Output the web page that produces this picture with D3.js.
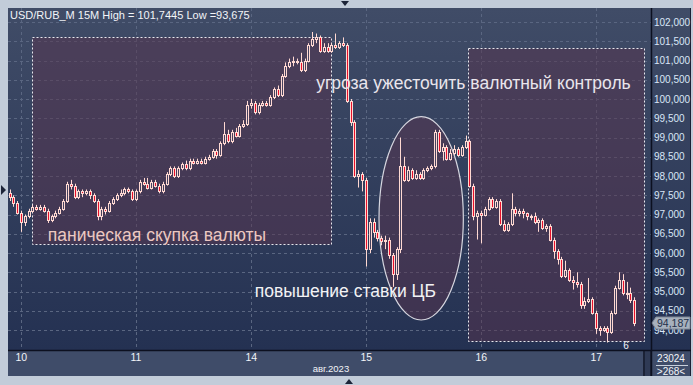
<!DOCTYPE html>
<html><head><meta charset="utf-8">
<script src="https://cdn.jsdelivr.net/npm/d3@7/dist/d3.min.js"></script>
<style>
html,body{margin:0;padding:0;background:#c2ccd9;}
svg{display:block;}
text{font-family:"Liberation Sans",Arial,sans-serif;}
</style></head><body>
<svg id="chart" width="693" height="385"></svg>
<script>
// ---- data (15-minute candles USD/RUB_M) ----
const opens = [97.55,97.45,97.30,97.05,96.80,96.95,97.10,97.20,97.15,97.20,97.10,96.85,96.95,97.05,97.15,97.35,97.80,97.75,97.45,97.60,
97.55,97.60,97.50,97.35,96.95,97.15,97.10,97.30,97.40,97.50,97.55,97.65,97.60,97.40,97.60,97.85,97.80,97.70,97.85,97.75,
97.60,97.80,98.05,98.20,98.00,98.20,98.30,98.20,98.40,98.35,98.40,98.35,98.45,98.50,98.65,98.55,98.85,99.10,98.90,99.15,
99.05,99.30,99.35,99.85,99.90,99.65,99.85,99.90,99.85,100.05,100.25,100.10,100.60,100.85,100.95,101.00,100.95,100.75,101.00,101.40,
101.55,101.60,101.25,101.35,101.25,101.40,101.35,101.45,101.40,99.95,99.40,98.00,98.05,97.90,96.10,96.80,96.55,96.40,96.30,96.35,
95.95,95.45,96.10,98.25,97.90,98.15,97.95,98.05,97.95,98.15,98.20,98.25,99.15,98.65,98.75,98.45,98.60,98.70,98.55,98.75,
98.90,97.75,96.95,97.05,97.00,97.15,97.40,97.20,97.35,96.75,96.60,96.75,97.15,97.05,97.10,97.05,96.95,96.95,96.80,96.85,
96.65,96.70,96.35,96.05,95.85,95.40,95.55,95.30,95.25,95.20,94.65,94.75,94.80,94.45,94.05,94.00,94.05,93.95,94.45,95.10,
95.30,94.95,94.95,94.78];
const highs = [97.65,97.50,97.35,97.10,97.00,97.15,97.25,97.25,97.25,97.25,97.15,97.00,97.10,97.20,97.40,97.85,97.90,97.80,97.65,97.65,
97.65,97.65,97.55,97.40,97.20,97.20,97.35,97.45,97.55,97.65,97.70,97.70,97.65,97.65,97.90,97.95,97.95,97.90,97.90,97.80,
97.85,98.10,98.25,98.25,98.25,98.35,98.40,98.45,98.45,98.45,98.45,98.50,98.55,98.70,98.70,98.90,99.40,99.20,99.20,99.25,
99.35,99.45,99.95,100.00,99.95,99.90,99.95,99.95,100.10,100.30,100.35,100.65,100.95,101.05,101.10,101.05,101.20,101.05,101.45,101.74,
101.70,101.65,101.45,101.45,101.45,101.70,101.50,101.60,101.45,100.00,99.45,98.15,98.10,97.95,96.90,96.90,96.60,96.45,96.45,96.40,
96.00,96.15,99.00,98.50,98.25,98.20,98.15,98.10,98.20,98.25,98.30,99.20,99.20,98.85,98.80,98.70,98.80,98.75,98.80,99.05,
98.95,97.80,97.10,97.10,97.20,97.45,97.45,97.40,97.40,96.85,96.80,97.55,97.20,97.15,97.15,97.05,97.00,97.05,96.90,96.90,
96.75,96.75,96.40,96.10,95.90,95.80,95.60,95.40,95.50,95.25,94.85,95.35,94.85,94.50,94.10,94.10,94.10,94.50,95.15,95.50,
95.45,95.25,95.10,94.85];
const lows = [97.35,97.20,97.00,96.55,96.70,96.90,97.05,97.10,97.10,97.05,96.78,96.80,96.90,97.00,97.10,97.30,97.65,97.40,97.40,97.45,
97.50,97.40,97.30,96.85,96.85,97.00,97.05,97.25,97.35,97.45,97.50,97.55,97.35,97.35,97.55,97.75,97.65,97.65,97.70,97.55,
97.55,97.75,98.00,97.95,97.95,98.15,98.15,98.15,98.30,98.30,98.30,98.30,98.40,98.45,98.45,98.50,98.80,98.85,98.85,99.00,
99.00,99.25,99.30,99.75,99.60,99.60,99.80,99.80,99.80,100.00,100.05,100.05,100.55,100.80,100.85,100.90,100.70,100.70,100.95,101.35,
101.45,101.20,101.20,101.20,101.20,101.30,101.30,101.35,99.90,99.30,97.95,97.70,97.60,95.65,96.00,96.40,96.30,96.20,96.10,95.85,
95.12,95.30,96.00,97.85,97.85,97.90,97.90,97.90,97.90,98.10,98.15,98.20,98.60,98.40,98.40,98.40,98.55,98.50,98.50,98.70,
97.70,96.85,96.35,96.25,96.95,97.10,97.15,97.15,96.70,96.55,96.55,96.70,96.95,96.95,96.90,96.85,96.85,96.75,96.55,96.60,
96.55,96.30,95.85,95.70,95.35,95.35,95.25,95.05,95.10,94.55,94.55,94.70,94.40,93.90,93.85,93.95,93.675,93.90,94.40,95.05,
94.90,94.80,94.70,94.10];
const closes = [97.45,97.30,97.05,96.80,96.95,97.10,97.20,97.15,97.20,97.10,96.85,96.95,97.05,97.15,97.35,97.80,97.75,97.45,97.60,97.55,
97.60,97.50,97.35,96.95,97.15,97.10,97.30,97.40,97.50,97.55,97.65,97.60,97.40,97.60,97.85,97.80,97.70,97.85,97.75,97.60,
97.80,98.05,98.20,98.00,98.20,98.30,98.20,98.40,98.35,98.40,98.35,98.45,98.50,98.65,98.55,98.85,99.10,98.90,99.15,99.05,
99.30,99.35,99.85,99.90,99.65,99.85,99.90,99.85,100.05,100.25,100.10,100.60,100.85,100.95,101.00,100.95,100.75,101.00,101.40,101.55,
101.60,101.25,101.35,101.25,101.40,101.35,101.45,101.40,99.95,99.40,98.00,98.05,97.90,96.10,96.80,96.55,96.40,96.30,96.35,95.95,
95.45,96.10,98.25,97.90,98.15,97.95,98.05,97.95,98.15,98.20,98.25,99.15,98.65,98.75,98.45,98.60,98.70,98.55,98.75,98.90,
97.75,96.95,97.05,97.00,97.15,97.40,97.20,97.35,96.75,96.60,96.75,97.15,97.05,97.10,97.05,96.95,96.95,96.80,96.85,96.65,
96.70,96.35,96.05,95.85,95.40,95.55,95.30,95.25,95.20,94.65,94.75,94.80,94.45,94.05,94.00,94.05,93.95,94.45,95.10,95.30,
94.95,94.95,94.78,94.187];
const dayLabels = ["10","11","14","15","16","17"];
const dayStart = [3,33,63,93,123,153];
const yTicks = [94,94.5,95,95.5,96,96.5,97,97.5,98,98.5,99,99.5,100,100.5,101,101.5,102];
const title = "USD/RUB_M 15M High = 101,7445 Low =93,675";
const lastPrice = 94.187;
const notes = [
  {t:"угроза ужесточить валютный контроль", i:80, v:100.25, c:"#e9e5ec"},
  {t:"паническая скупка валюты", i:10, v:96.32, c:"#ecc8c1"},
  {t:"повышение ставки ЦБ", i:64, v:94.87, c:"#f2f2f4"}
];
const boxes = [ {i0:6.0, i1:84.0, v0:101.62, v1:96.24}, {i0:119.5, i1:165.5, v0:101.33, v1:93.73} ];
const ellipse = {i:107.4, v:96.9, rxi:11, rv:2.64};

const svg = d3.select("#chart");
const L=8, T=8, R=651, B=350, BB=376;
const n = closes.length;
const x = d3.scaleLinear().domain([0,163]).range([9.5,634.3]);
const y = d3.scaleLinear().domain([94,102]).range([330,22]);
const fmt = v => d3.format(".3f")(v).replace(".",",");

const defs = svg.append("defs");
const g1 = defs.append("linearGradient").attr("id","bg").attr("x1",0).attr("y1",0).attr("x2",0).attr("y2",1);
g1.append("stop").attr("offset","0%").attr("stop-color","#404c67");
g1.append("stop").attr("offset","100%").attr("stop-color","#243152");
const clip = defs.append("clipPath").attr("id","plotclip");
clip.append("rect").attr("x",L).attr("y",T).attr("width",R-L).attr("height",B-T);

// frame
svg.append("rect").attr("x",L).attr("y",T).attr("width",683).attr("height",BB-T).attr("fill","#1b2236");
svg.append("rect").attr("x",L).attr("y",T).attr("width",R-L).attr("height",B-T).attr("fill","url(#bg)");
svg.append("rect").attr("x",R+1).attr("y",T).attr("width",38).attr("height",B-T).attr("fill","url(#bg)");
svg.append("rect").attr("x",L).attr("y",B+1).attr("width",R-L-8).attr("height",BB-B-1).attr("fill","#3f4c69");
svg.append("rect").attr("x",R-6).attr("y",B+1).attr("width",5).attr("height",BB-B-1).attr("fill","#2f3a55");
svg.append("rect").attr("x",R+1).attr("y",B+1).attr("width",38).attr("height",BB-B-1).attr("fill","#3f4c69");

const plot = svg.append("g").attr("clip-path","url(#plotclip)");
// grid
plot.append("g").selectAll("line").data(yTicks).join("line")
  .attr("x1",L).attr("x2",R).attr("y1",d=>Math.round(y(d))+0.5).attr("y2",d=>Math.round(y(d))+0.5)
  .attr("stroke","#5a6681").attr("stroke-dasharray","3,3");
plot.append("g").selectAll("line").data(dayStart).join("line")
  .attr("x1",d=>Math.round(x(d))+0.5).attr("x2",d=>Math.round(x(d))+0.5).attr("y1",T).attr("y2",B)
  .attr("stroke","#5a6681").attr("stroke-dasharray","3,3");

// annotation boxes
boxes.forEach(b=>{
  plot.append("rect").attr("x",Math.round(x(b.i0))+0.5).attr("y",Math.round(y(b.v0))+0.5)
    .attr("width",Math.round(x(b.i1)-x(b.i0))).attr("height",Math.round(y(b.v1)-y(b.v0)))
    .attr("fill","rgba(88,52,78,0.5)").attr("stroke","#e8e8ee").attr("stroke-width",1).attr("stroke-dasharray","2,2");
});
const cx = x(ellipse.i), cy = y(ellipse.v);
plot.append("ellipse").attr("cx",cx).attr("cy",cy).attr("rx",x(ellipse.rxi)-x(0)).attr("ry",y(0)-y(ellipse.rv))
  .attr("fill","rgba(88,52,78,0.5)").attr("stroke","#d7d7e0").attr("stroke-width",1.2);

// candles
const cg = plot.append("g");
d3.range(n).forEach(i=>{
  const xc = Math.round(x(i));
  const up = closes[i] >= opens[i];
  const yt = Math.round(y(Math.max(opens[i],closes[i])));
  const yb = Math.max(Math.round(y(Math.min(opens[i],closes[i]))), yt+1);
  cg.append("line").attr("x1",xc+0.5).attr("x2",xc+0.5).attr("y1",y(highs[i])).attr("y2",y(lows[i]))
    .attr("stroke","#ffd9d2").attr("stroke-width",1);
  cg.append("rect").attr("x",xc-1+0.5).attr("y",yt+0.5).attr("width",2).attr("height",yb-yt)
    .attr("fill",up?"#45415e":"#e8102b").attr("stroke","#ffd9d2").attr("stroke-width",1);
});

// notes
notes.forEach(nt=>{
  svg.append("text").attr("x",x(nt.i)).attr("y",y(nt.v)).attr("fill",nt.c).attr("font-size",17.5).text(nt.t);
});

// title
svg.append("text").attr("x",10).attr("y",19).attr("fill","#f2f4f8").attr("font-size",11).text(title);

// y axis
const yAxis = d3.axisRight(y).tickValues(yTicks).tickFormat(fmt).tickSize(0).tickPadding(3);
const ya = svg.append("g").attr("transform",`translate(${R},0)`).call(yAxis);
ya.select(".domain").remove();
ya.selectAll("text").attr("fill","#d9e6f7").attr("font-size",10).attr("font-family","Liberation Sans, Arial");
svg.append("line").attr("x1",R+0.5).attr("x2",R+0.5).attr("y1",T).attr("y2",BB).attr("stroke","#0c1020").attr("stroke-width",1.5);

// last price marker
const lp = Math.round(y(lastPrice));
svg.append("path").attr("d",`M${R+1},${lp} L${R+5},${lp-6} L${R+39},${lp-6} L${R+39},${lp+6} L${R+5},${lp+6} Z`)
  .attr("fill","#a7b1bd").attr("stroke","#7e8896");
svg.append("text").attr("x",R+6).attr("y",lp+4).attr("fill","#23304a").attr("font-size",10.5).text(fmt(lastPrice));

// x axis
const xAxis = d3.axisBottom(x).tickValues(dayStart).tickFormat((d,i)=>dayLabels[i]).tickSize(0).tickPadding(5);
const xa = svg.append("g").attr("transform",`translate(0,${B})`).call(xAxis);
xa.select(".domain").remove();
xa.selectAll("text").attr("fill","#f2f4f8").attr("font-size",10.5).attr("text-anchor","start").attr("dx",-6).attr("dy","0.6em");
svg.append("line").attr("x1",L).attr("x2",691).attr("y1",B+0.5).attr("y2",B+0.5).attr("stroke","#0c1020").attr("stroke-width",1.5);
svg.append("text").attr("x",331).attr("y",372).attr("fill","#f2f4f8").attr("font-size",9.5).attr("text-anchor","middle").text("авг.2023");
svg.append("text").attr("x",626).attr("y",349).attr("fill","#f2f4f8").attr("font-size",10).attr("text-anchor","middle").text("6");
svg.append("text").attr("x",671).attr("y",362).attr("fill","#f2f4f8").attr("font-size",10).attr("text-anchor","middle").text("23024");
svg.append("line").attr("x1",656).attr("x2",688).attr("y1",365.5).attr("y2",365.5).attr("stroke","#c8d0dc");
svg.append("text").attr("x",671).attr("y",375).attr("fill","#f2f4f8").attr("font-size",10).attr("text-anchor","middle").text(">268<");

// small markers
svg.append("path").attr("d","M341,1 L349,1 L345,6 Z").attr("fill","#1c2438");
svg.append("path").attr("d","M345,384 L353,384 L349,379 Z").attr("fill","#1c2438");
svg.append("path").attr("d","M1,185 L1,195 L6,190 Z").attr("fill","#1c2438");
</script></body></html>
